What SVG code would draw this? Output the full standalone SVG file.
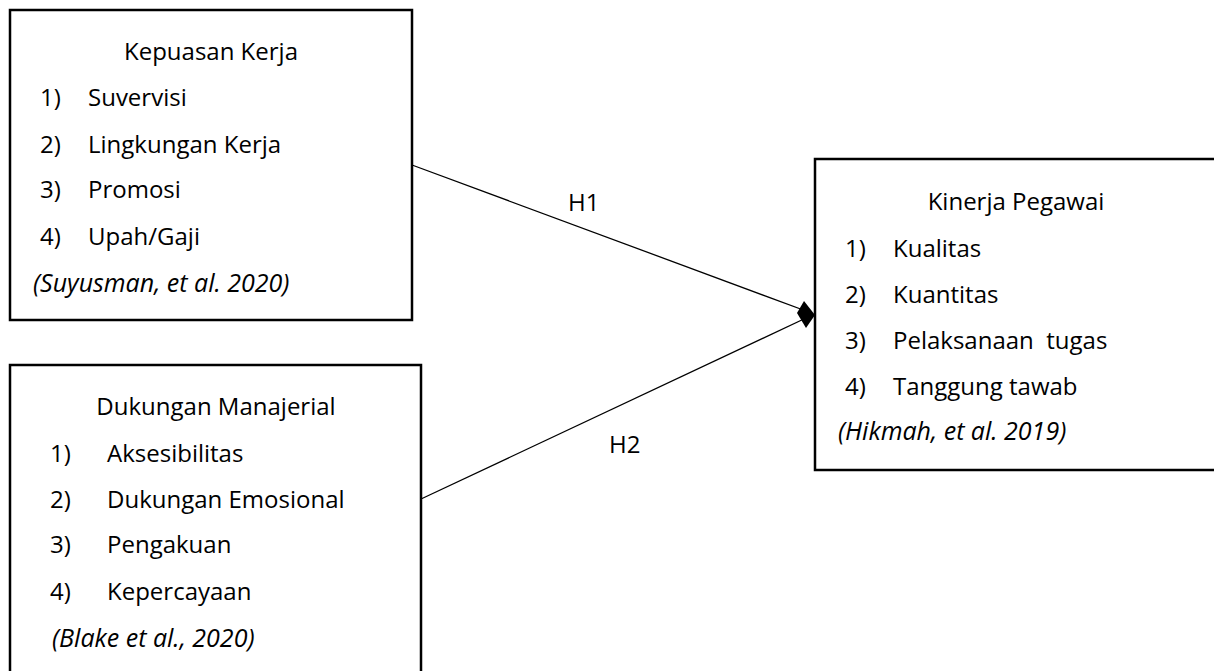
<svg xmlns="http://www.w3.org/2000/svg" width="1214" height="671" viewBox="0 0 1214 671">
<defs>
<style>
.box{fill:#fff;stroke:#000;stroke-width:2.5}
.t{font-family:"Open Sans","Noto Sans",sans-serif;font-size:24px;fill:#000}
.title{font-family:"Open Sans","Noto Sans",sans-serif;font-size:24px;fill:#000;text-anchor:middle}
.cite{font-family:"Open Sans","Noto Sans",sans-serif;font-size:25px;font-style:italic;fill:#000}
.conn{stroke:#000;stroke-width:1.3;fill:none}
.head{fill:#000;stroke:none}
</style>
</defs>
<rect width="1214" height="671" fill="#fff"/>
<g id="connectors">
<line class="conn" x1="412" y1="165" x2="806" y2="311"/>
<line class="conn" x1="421" y1="499" x2="806" y2="318"/>
<path class="head" d="M815,315 L804,301 L797,313 L806,328 Z"/>
<text class="t" x="568" y="211">H1</text>
<text class="t" x="609" y="453">H2</text>
</g>
<g id="kepuasan">
<rect class="box" x="10" y="10" width="402" height="310"/>
<text class="title" x="211" y="60">Kepuasan Kerja</text>
<text class="t" x="40" y="106">1)</text><text class="t" x="88" y="106">Suvervisi</text>
<text class="t" x="40" y="153">2)</text><text class="t" x="88" y="153">Lingkungan Kerja</text>
<text class="t" x="40" y="198">3)</text><text class="t" x="88" y="198">Promosi</text>
<text class="t" x="40" y="245">4)</text><text class="t" x="88" y="245">Upah/Gaji</text>
<text class="cite" x="33" y="292">(Suyusman, et al. 2020)</text>
</g>
<g id="dukungan">
<rect class="box" x="10" y="365" width="411" height="320"/>
<text class="title" x="216" y="415">Dukungan Manajerial</text>
<text class="t" x="50" y="462">1)</text><text class="t" x="107" y="462">Aksesibilitas</text>
<text class="t" x="50" y="508">2)</text><text class="t" x="107" y="508">Dukungan Emosional</text>
<text class="t" x="50" y="553">3)</text><text class="t" x="107" y="553">Pengakuan</text>
<text class="t" x="50" y="600">4)</text><text class="t" x="107" y="600">Kepercayaan</text>
<text class="cite" x="52" y="647">(Blake et al., 2020)</text>
</g>
<g id="kinerja">
<rect class="box" x="815" y="159" width="420" height="311"/>
<text class="title" x="1016" y="210">Kinerja Pegawai</text>
<text class="t" x="845" y="257">1)</text><text class="t" x="893" y="257">Kualitas</text>
<text class="t" x="845" y="303">2)</text><text class="t" x="893" y="303">Kuantitas</text>
<text class="t" x="845" y="349">3)</text><text class="t" x="893" y="349" xml:space="preserve">Pelaksanaan  tugas</text>
<text class="t" x="845" y="395">4)</text><text class="t" x="893" y="395">Tanggung tawab</text>
<text class="cite" x="838" y="440">(Hikmah, et al. 2019)</text>
</g>
</svg>
